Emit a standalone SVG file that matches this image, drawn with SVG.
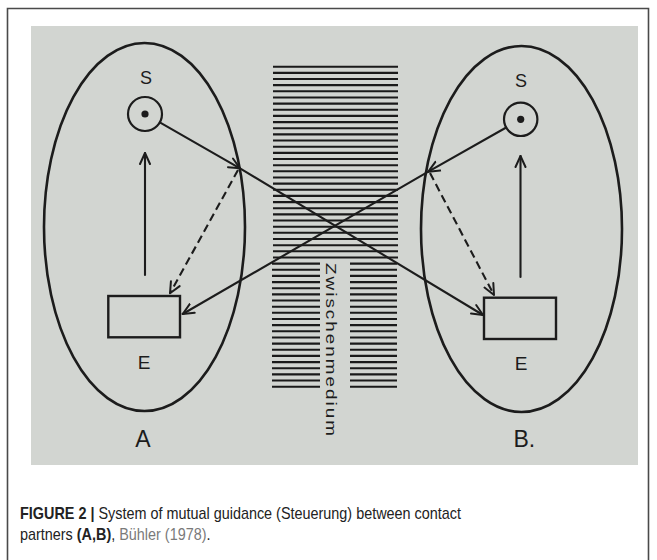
<svg xmlns="http://www.w3.org/2000/svg" width="657" height="560" viewBox="0 0 657 560">
<defs>
<marker id="ah" markerUnits="userSpaceOnUse" markerWidth="16" markerHeight="14" refX="12" refY="6" orient="auto" viewBox="0 0 16 12">
<path d="M1,1 L12,6 L1,11" fill="none" stroke="#1c1c1c" stroke-width="2" stroke-linecap="round" stroke-linejoin="round"/>
</marker>
</defs>
<style>
.ln{fill:none;stroke:#1c1c1c;stroke-width:2.1;stroke-linecap:round}
.ell{fill:none;stroke:#1c1c1c;stroke-width:2.6}
.box{fill:none;stroke:#1c1c1c;stroke-width:2.4}
.dash{stroke-dasharray:8 4.5;stroke-linecap:butt}
.lbl{font-family:"Liberation Sans",Arial,sans-serif;fill:#1c1c1c;text-anchor:middle}
.hatch{fill:none;stroke:#1a1a1a;stroke-width:2.1}
.cap{font-family:"Liberation Sans",Arial,sans-serif;font-size:16px;fill:#222}
</style>
<rect x="0" y="0" width="657" height="560" fill="#ffffff"/>
<path d="M7.5,560 V8.5 H648.5 V560" fill="none" stroke="#4a4a4a" stroke-width="1.6"/>
<rect x="31" y="26" width="607" height="439" fill="#d2d5d1"/>

<g id="medium">
<path class="hatch" d="M273,66.7H398M273,72.85H398M273,79H398M273,85.15H398M273,91.3H398M273,97.5H398M273,103.6H398M273,109.8H398M273,115.9H398M273,122.1H398M273,128.2H398M273,134.4H398M273,140.5H398M273,146.7H398M273,152.9H398M273,159H398M273,165.2H398M273,171.3H398M273,177.5H398M273,183.6H398M273,189.8H398M273,195.9H398M273,202.1H398M273,208.2H398M273,214.4H398M273,220.5H398M273,226.7H398M273,232.8H398M273,239H398M273,245.2H398M273,251.3H398M273,257.5H398"/>
<path class="hatch" d="M272,263.6H320M350,263.6H397M272,269.8H320M350,269.8H397M272,275.9H320M350,275.9H397M272,282.1H320M350,282.1H397M272,288.2H320M350,288.2H397M272,294.4H320M350,294.4H397M272,300.5H320M350,300.5H397M272,306.7H320M350,306.7H397M272,312.8H320M350,312.8H397M272,319H320M350,319H397M272,325.1H320M350,325.1H397M272,331.3H320M350,331.3H397M272,337.5H320M350,337.5H397M272,343.6H320M350,343.6H397M272,349.8H320M350,349.8H397M272,355.9H320M350,355.9H397M272,362.1H320M350,362.1H397M272,368.2H320M350,368.2H397M272,374.4H320M350,374.4H397M272,380.5H320M350,380.5H397M272,386.7H320M350,386.7H397"/>
<text transform="translate(325.5,263) rotate(90) scale(1.3,1)" font-family="'Liberation Sans',Arial,sans-serif" font-size="14.5" fill="#1c1c1c" textLength="133" lengthAdjust="spacing">Zwischenmedium</text>
</g>

<g id="partnerA">
<ellipse class="ell" cx="144.5" cy="227" rx="100.5" ry="184"/>
<text class="lbl" x="146" y="84" font-size="18">S</text>
<circle cx="145" cy="114" r="17" fill="none" stroke="#1c1c1c" stroke-width="2.2"/>
<circle cx="145" cy="114" r="3.6" fill="#1c1c1c"/>
<rect class="box" x="108.3" y="296" width="71.7" height="41.3"/>
<text class="lbl" x="144" y="369" font-size="19">E</text>
<text class="lbl" x="143" y="447" font-size="23">A</text>
</g>

<g id="partnerB">
<ellipse class="ell" cx="521.5" cy="229" rx="100.5" ry="183"/>
<text class="lbl" x="521" y="87" font-size="18">S</text>
<circle cx="520.7" cy="119.3" r="16.7" fill="none" stroke="#1c1c1c" stroke-width="2.2"/>
<circle cx="520.7" cy="119.3" r="3.6" fill="#1c1c1c"/>
<rect class="box" x="484" y="297.7" width="72" height="41.3"/>
<text class="lbl" x="521" y="370" font-size="19">E</text>
<text x="513.5" y="447" font-family="'Liberation Sans',Arial,sans-serif" font-size="23" fill="#1c1c1c">B.</text>
</g>

<g id="connectors">
<line class="ln" x1="145" y1="275" x2="145" y2="153" marker-end="url(#ah)"/>
<line class="ln" x1="520.5" y1="277" x2="520.5" y2="156" marker-end="url(#ah)"/>
<line class="ln" x1="159.8" y1="122.4" x2="240" y2="168.3" marker-end="url(#ah)"/>
<line class="ln" x1="240" y1="168.3" x2="483" y2="315" marker-end="url(#ah)"/>
<line class="ln" x1="506.2" y1="127.5" x2="428.3" y2="171.7" marker-end="url(#ah)"/>
<line class="ln" x1="428.3" y1="171.7" x2="182.7" y2="314" marker-end="url(#ah)"/>
<line class="ln dash" x1="238" y1="170" x2="170" y2="293.3" marker-end="url(#ah)"/>
<line class="ln dash" x1="430" y1="173" x2="494" y2="295" marker-end="url(#ah)"/>
</g>

<g id="caption">
<text class="cap" transform="translate(20,519) scale(0.9,1)"><tspan font-weight="bold">FIGURE 2 |</tspan> System of mutual guidance (Steuerung) between contact</text>
<text class="cap" transform="translate(20,540) scale(0.9,1)">partners <tspan font-weight="bold">(A,B)</tspan>, <tspan fill="#7a7a7a">Bühler (1978)</tspan>.</text>
</g>
</svg>
